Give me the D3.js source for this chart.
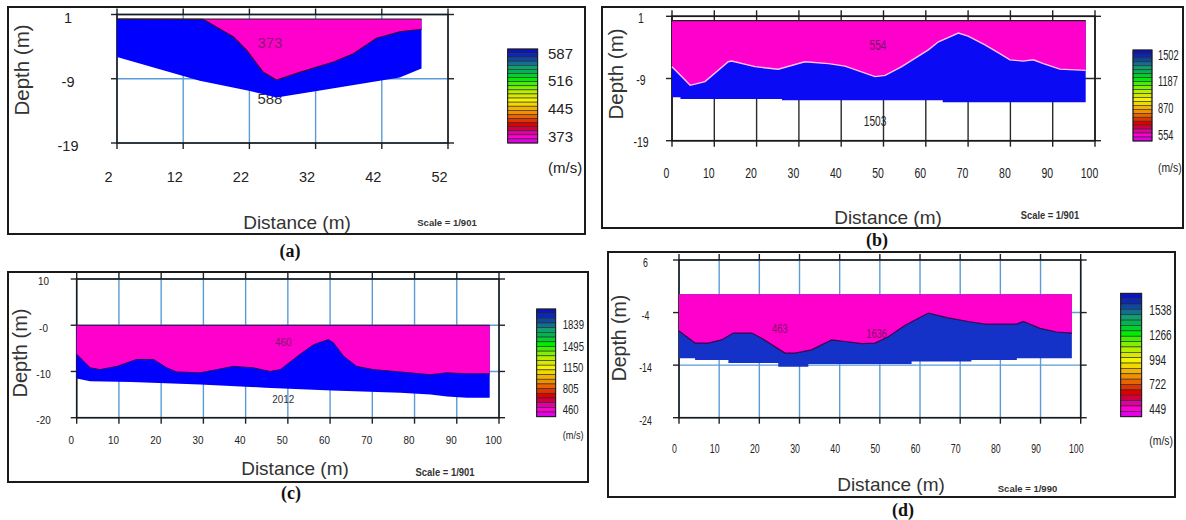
<!DOCTYPE html>
<html>
<head>
<meta charset="utf-8">
<script src="https://cdn.jsdelivr.net/npm/d3@7"></script>
<style>
  body { margin: 0; background: #fff; }
  svg { display: block; }
</style>
</head>
<body>
<svg id="fig" width="1186" height="520"></svg>
<script>
// ---------- (a) ----------
const aDistTicks = [2, 12, 22, 32, 42, 52];
const aDepthTicks = [1, -9, -19];
const aDepthLabels = ["1", "-9", "-19"];
const aSurface = 0.3;
const aInterfaceDist  = [2, 15, 19.6, 21.6, 24.1, 26.1, 29.6, 34.7, 37.7, 41.2, 44.7, 48];
const aInterfaceDepth = [0.3, 0.25, -2.5, -4.6, -8.0, -9.2, -8.0, -6.4, -5.1, -2.7, -1.7, -1.3];
const aBaseDist  = [2, 14.5, 22.1, 26.1, 32.2, 44.7, 48];
const aBaseDepth = [-5.6, -9.3, -10.9, -11.9, -10.9, -8.8, -7.4];
const aLegend = [587, 516, 445, 373];
const aLayerText  = ["373", "588"];
const aLayerDist  = [25.1, 25.1];
const aLayerDepth = [-3.4, -12.0];

// ---------- (b) ----------
const bDistTicks = [0, 10, 20, 30, 40, 50, 60, 70, 80, 90, 100];
const bDepthTicks = [1, -9, -19];
const bDepthLabels = ["1", "-9", "-19"];
const bSurface = 0.3;
const bInterfaceDist  = [0, 4.3, 7.8, 13.3, 14.1, 19.6, 25.1, 31.4, 37, 40.9, 48, 50.4, 54.3, 60.6, 63, 67.7, 70, 74, 77.5, 79.9, 83, 85.4, 87.8, 91.7, 97.8];
const bInterfaceDepth = [-7.1, -10.1, -9.5, -6.3, -6.2, -7.1, -7.5, -6.3, -6.6, -7.0, -8.7, -8.5, -7.1, -4.4, -3.1, -1.7, -2.2, -3.6, -5.0, -6.0, -6.2, -6.0, -6.6, -7.5, -7.7];
const bBaseDist  = [0, 2, 26, 64, 97.8];
const bBaseDepth = [-12.0, -12.3, -12.5, -12.8, -12.8];
const bLegend = [1502, 1187, 870, 554];
const bLayerText  = ["554", "1503"];
const bLayerDist  = [48.7, 48.0];
const bLayerDepth = [-3.6, -15.9];

// ---------- (c) ----------
const cDistTicks = [0, 10, 20, 30, 40, 50, 60, 70, 80, 90, 100];
const cDepthTicks = [10, 0, -10, -20];
const cDepthLabels = ["10", "-0", "-10", "-20"];
const cSurface = 0;
const cInterfaceDist  = [0, 3.2, 5.5, 9.5, 14.2, 18.2, 21.3, 23.7, 29.2, 33.2, 37.1, 41.8, 45.8, 48.2, 52.9, 56.1, 59.6, 60.8, 63.2, 66.3, 70.3, 76.6, 83.7, 87.7, 92.4, 97.8];
const cInterfaceDepth = [-6.3, -9.2, -9.6, -8.9, -7.4, -7.4, -9.2, -10.1, -10.3, -9.6, -8.9, -9.2, -10.0, -9.6, -6.3, -4.2, -3.1, -3.8, -6.7, -8.9, -9.6, -10.1, -10.7, -10.3, -10.5, -10.5];
const cBaseDist  = [0, 3.2, 12.9, 29.2, 44.6, 60.4, 76.6, 83.8, 87.7, 92.4, 97.8];
const cBaseDepth = [-11.5, -12.1, -12.3, -12.8, -13.5, -14.1, -14.6, -15.0, -15.4, -15.7, -15.7];
const cLegend = [1839, 1495, 1150, 805, 460];
const cLayerText  = ["460", "2012"];
const cLayerDist  = [48.9, 48.9];
const cLayerDepth = [-3.7, -16.0];

// ---------- (d) ----------
const dDistTicks = [0, 10, 20, 30, 40, 50, 60, 70, 80, 90, 100];
const dDepthTicks = [6, -4, -14, -24];
const dDepthLabels = ["6", "-4", "-14", "-24"];
const dSurface = -0.5;
const dInterfaceDist  = [0, 4.0, 7.3, 10.6, 13.5, 18.1, 20.6, 26.4, 28.9, 33.0, 38.0, 41.3, 45.5, 48.8, 52.1, 56.3, 62.1, 67.0, 72.0, 76.2, 84.1, 85.7, 89.9, 94.0, 97.8];
const dInterfaceDepth = [-7.5, -9.8, -9.8, -9.2, -7.9, -7.9, -8.9, -11.7, -11.7, -11.1, -9.2, -9.5, -9.9, -9.8, -8.6, -6.4, -4.1, -5.0, -5.7, -6.2, -6.2, -5.7, -7.0, -7.7, -7.9];
const dBaseDist  = [0, 4, 12.3, 24.7, 32.2, 57.9, 72.8, 84.1, 97.8];
const dBaseDepth = [-12.7, -13.0, -13.6, -14.3, -13.8, -13.3, -13.0, -12.7, -12.7];
const dLegend = [1538, 1266, 994, 722, 449];
const dLayerText  = ["463", "1636"];
const dLayerDist  = [25.1, 49.2];
const dLayerDepth = [-7.0, -7.9];

// velocity colour bar, top (fast) to bottom (slow)
const bandColours = ["#0a14c0", "#0a28b0", "#1048a0", "#107090", "#10a070", "#00b450",
  "#00d030", "#00ec00", "#40f000", "#80f000", "#b4f000", "#d8e800", "#f4f400", "#f0d800",
  "#f0b400", "#f09000", "#e86400", "#e03400", "#e00000", "#d00040", "#e000a0", "#ff00d0", "#e400e8"];

const SANS = '"Liberation Sans", Arial, sans-serif';
const SERIF = '"Liberation Serif", "Times New Roman", serif';
const svg = d3.select("#fig");

function pairs(xs, ys) { return xs.map((v, i) => ({ dist: v, depth: ys[i] })); }

function txt(g, x, y, s, o) {
  return g.append("text")
    .attr("transform", `translate(${x},${y}) rotate(${o.rot || 0}) scale(${o.sx || 1},1)`)
    .attr("text-anchor", o.anchor || "middle")
    .attr("dominant-baseline", "central")
    .style("font-family", o.family || SANS)
    .style("font-size", o.size + "px")
    .style("font-weight", o.weight || "normal")
    .attr("fill", o.fill || "#222")
    .text(s);
}

function drawPanel(p) {
  const g = svg.append("g");
  g.append("rect")
    .attr("x", p.frame[0]).attr("y", p.frame[1])
    .attr("width", p.frame[2] - p.frame[0]).attr("height", p.frame[3] - p.frame[1])
    .attr("fill", "#fff").attr("stroke", "#1a1a1a").attr("stroke-width", 2);

  const x = d3.scaleLinear().domain([p.distTicks[0], p.distTicks[p.distTicks.length - 1]]).range([p.plot[0], p.plot[1]]);
  const y = d3.scaleLinear().domain([p.depthTicks[0], p.depthTicks[p.depthTicks.length - 1]]).range([p.plot[2], p.plot[3]]);
  const [x0, x1] = x.range(), [y0, y1] = y.range();
  const stub = 6;

  // grid
  g.append("g").selectAll("line").data(p.distTicks).join("line")
    .attr("x1", d => x(d)).attr("x2", d => x(d)).attr("y1", y0).attr("y2", y1)
    .attr("stroke", p.grid).attr("stroke-width", 1.4);
  g.append("g").selectAll("line").data(p.depthTicks).join("line")
    .attr("x1", x0).attr("x2", x1).attr("y1", d => y(d)).attr("y2", d => y(d))
    .attr("stroke", p.grid).attr("stroke-width", 1.4);
  // tick stubs crossing the frame
  const st = g.append("g").attr("stroke", "#222").attr("stroke-width", 1.4);
  st.selectAll(".tt").data(p.distTicks).join("line").attr("class", "tt")
    .attr("x1", d => x(d)).attr("x2", d => x(d)).attr("y1", y0 - stub).attr("y2", y0);
  st.selectAll(".tb").data(p.distTicks).join("line").attr("class", "tb")
    .attr("x1", d => x(d)).attr("x2", d => x(d)).attr("y1", y1).attr("y2", y1 + stub);
  st.selectAll(".tl").data(p.depthTicks).join("line").attr("class", "tl")
    .attr("x1", x0 - stub).attr("x2", x0).attr("y1", d => y(d)).attr("y2", d => y(d));
  st.selectAll(".tr").data(p.depthTicks).join("line").attr("class", "tr")
    .attr("x1", x1).attr("x2", x1 + stub).attr("y1", d => y(d)).attr("y2", d => y(d));
  g.append("rect").attr("x", x0).attr("y", y0).attr("width", x1 - x0).attr("height", y1 - y0)
    .attr("fill", "none").attr("stroke", "#1a1a1a").attr("stroke-width", 1.6);

  const layerPts = p.layerText.map((t, i) => ({ t, dist: p.layerDist[i], depth: p.layerDepth[i], i }));
  // deeper-layer label sits beneath the fill
  if (p.labelUnder) {
    layerPts.filter(d => d.i === 1).forEach(d =>
      txt(g, x(d.dist), y(d.depth), d.t, { size: p.layerSize, sx: p.layerSx, fill: p.layerFill[1] }));
  }

  // refractor (lower layer)
  const base = pairs(p.baseDist, p.baseDepth);
  g.append("path").datum(base)
    .attr("d", d3.area().x(d => x(d.dist)).y0(y(p.surface)).y1(d => y(d.depth))
      .curve(p.stepBase ? d3.curveStepAfter : d3.curveLinear))
    .attr("fill", p.blue);
  // weathered (upper layer)
  const iface = pairs(p.interfaceDist, p.interfaceDepth);
  g.append("path").datum(iface)
    .attr("d", d3.area().x(d => x(d.dist)).y0(y(p.surface)).y1(d => y(d.depth)))
    .attr("fill", "#ff00cc");
  g.append("path").datum(iface)
    .attr("d", d3.line().x(d => x(d.dist)).y(d => y(d.depth)))
    .attr("fill", "none").attr("stroke", p.ifaceStroke).attr("stroke-width", p.ifaceWidth);
  if (p.surfaceStroke) {
    g.append("line")
      .attr("x1", x(p.interfaceDist[0])).attr("x2", x(p.interfaceDist[p.interfaceDist.length - 1]))
      .attr("y1", y(p.surface)).attr("y2", y(p.surface))
      .attr("stroke", p.surfaceStroke).attr("stroke-width", 1.2);
  }

  layerPts.filter(d => !(p.labelUnder && d.i === 1)).forEach(d =>
    txt(g, x(d.dist), y(d.depth), d.t, { size: p.layerSize, sx: p.layerSx, fill: p.layerFill[d.i] }));

  // tick labels via d3 axes
  const ax = g.append("g").attr("transform", `translate(0,${p.xLabelY})`)
    .call(d3.axisBottom(x).tickValues(p.distTicks).tickSize(0).tickPadding(0));
  ax.select(".domain").remove();
  ax.selectAll("text")
    .attr("y", 0).attr("dy", "0.35em")
    .attr("dx", p.xLabelDx / p.tickSx)
    .attr("transform", `scale(${p.tickSx},1)`)
    .style("font-family", SANS).style("font-size", p.tickSize + "px").attr("fill", "#222");
  const ay = g.append("g").attr("transform", `translate(${p.yLabelX},${p.yLabelDy})`)
    .call(d3.axisLeft(y).tickValues(p.depthTicks).tickSize(0).tickPadding(0)
      .tickFormat((d, i) => p.depthLabels[i]));
  ay.select(".domain").remove();
  ay.selectAll("text")
    .attr("x", 0).attr("dy", "0.35em").attr("text-anchor", "middle")
    .attr("transform", `scale(${p.tickSx},1)`)
    .style("font-family", SANS).style("font-size", p.tickSize + "px").attr("fill", "#222");

  // titles
  txt(g, p.xTitle[0], p.xTitle[1], "Distance (m)", { size: 19, fill: "#333" });
  txt(g, p.yTitle[0], p.yTitle[1], "Depth (m)", { size: p.yTitleSize, rot: -90, fill: "#333" });
  txt(g, p.scalePos[0], p.scalePos[1], p.scaleText, { size: p.scaleSize, weight: "bold", sx: p.scaleSx, fill: "#333" });
  txt(g, p.tag[0], p.tag[1], p.tagText, { size: 18, weight: "bold", family: SERIF, fill: "#111" });

  // colour bar
  const [bx, bt, bw, bb] = p.bar;
  const bh = (bb - bt) / bandColours.length;
  g.append("g").selectAll("rect").data(bandColours).join("rect")
    .attr("x", bx).attr("y", (d, i) => bt + i * bh).attr("width", bw).attr("height", bh)
    .attr("fill", d => d).attr("stroke", "#2a2a2a").attr("stroke-width", 0.6);
  g.append("rect").attr("x", bx).attr("y", bt).attr("width", bw).attr("height", bb - bt)
    .attr("fill", "none").attr("stroke", "#1a1a1a").attr("stroke-width", 1);
  const ly = d3.scaleLinear().domain([p.legend[0], p.legend[p.legend.length - 1]]).range(p.legendRange);
  p.legend.forEach(v => txt(g, p.legendX, ly(v), String(v), { size: p.legendSize, sx: p.legendSx, anchor: "start" }));
  txt(g, p.legendX, p.unitsY, "(m/s)", { size: p.unitsSize, sx: p.unitsSx, anchor: "start" });
}

drawPanel({
  frame: [8, 7, 585, 234], plot: [117, 448, 14.5, 143],
  distTicks: aDistTicks, depthTicks: aDepthTicks, depthLabels: aDepthLabels,
  surface: aSurface, interfaceDist: aInterfaceDist, interfaceDepth: aInterfaceDepth,
  baseDist: aBaseDist, baseDepth: aBaseDepth, stepBase: false,
  layerText: aLayerText, layerDist: aLayerDist, layerDepth: aLayerDepth,
  layerFill: ["#8b1a74", "#333"], layerSize: 15, layerSx: 1, labelUnder: true,
  grid: "#5a9bd8", blue: "#0000ff", ifaceStroke: "#3a0040", ifaceWidth: 1.2, surfaceStroke: "#202020",
  xLabelY: 177, xLabelDx: -9, yLabelX: 68, yLabelDy: 2.5, tickSize: 14.5, tickSx: 1,
  xTitle: [297, 222], yTitle: [21, 70], yTitleSize: 20.5,
  scaleText: "Scale = 1/901", scalePos: [447, 222], scaleSize: 9.5, scaleSx: 1,
  tag: [290, 251], tagText: "(a)",
  bar: [507.7, 49, 30, 143], legend: aLegend, legendRange: [53, 136], legendX: 548,
  legendSize: 15, legendSx: 1, unitsY: 167, unitsSize: 15, unitsSx: 1
});

drawPanel({
  frame: [602, 7, 1183, 228], plot: [672, 1095, 16.3, 140.7],
  distTicks: bDistTicks, depthTicks: bDepthTicks, depthLabels: bDepthLabels,
  surface: bSurface, interfaceDist: bInterfaceDist, interfaceDepth: bInterfaceDepth,
  baseDist: bBaseDist, baseDepth: bBaseDepth, stepBase: true,
  layerText: bLayerText, layerDist: bLayerDist, layerDepth: bLayerDepth,
  layerFill: ["#7a1266", "#222"], layerSize: 14.5, layerSx: 0.7, labelUnder: false,
  grid: "#2a2a2a", blue: "#0a0af5", ifaceStroke: "#ffc0f4", ifaceWidth: 1.4, surfaceStroke: "#202020",
  xLabelY: 173, xLabelDx: -6, yLabelX: 641, yLabelDy: 0.5, tickSize: 15, tickSx: 0.7,
  xTitle: [888, 217], yTitle: [615, 74], yTitleSize: 20.5,
  scaleText: "Scale = 1/901", scalePos: [1050, 215], scaleSize: 11, scaleSx: 0.85,
  tag: [877, 240], tagText: "(b)",
  bar: [1133, 50, 19, 141], legend: bLegend, legendRange: [55, 135], legendX: 1158,
  legendSize: 14, legendSx: 0.66, unitsY: 167, unitsSize: 13, unitsSx: 0.8
});

drawPanel({
  frame: [8, 272, 588, 482], plot: [76.7, 499, 279, 417.7],
  distTicks: cDistTicks, depthTicks: cDepthTicks, depthLabels: cDepthLabels,
  surface: cSurface, interfaceDist: cInterfaceDist, interfaceDepth: cInterfaceDepth,
  baseDist: cBaseDist, baseDepth: cBaseDepth, stepBase: false,
  layerText: cLayerText, layerDist: cLayerDist, layerDepth: cLayerDepth,
  layerFill: ["#7a1a6c", "#333"], layerSize: 11, layerSx: 0.9, labelUnder: false,
  grid: "#5a9bd8", blue: "#0000ff", ifaceStroke: "#2a0060", ifaceWidth: 1, surfaceStroke: "#301040",
  xLabelY: 440, xLabelDx: -6, yLabelX: 43.5, yLabelDy: 2, tickSize: 11, tickSx: 0.9,
  xTitle: [295, 468], yTitle: [20, 353], yTitleSize: 20,
  scaleText: "Scale = 1/901", scalePos: [445, 472], scaleSize: 10.5, scaleSx: 0.9,
  tag: [291, 493], tagText: "(c)",
  bar: [536.7, 309, 19, 416.7], legend: cLegend, legendRange: [325, 410], legendX: 562.7,
  legendSize: 12, legendSx: 0.8, unitsY: 435, unitsSize: 11.5, unitsSx: 0.8
});

drawPanel({
  frame: [608, 252, 1175, 497], plot: [679, 1080.7, 260, 417.7],
  distTicks: dDistTicks, depthTicks: dDepthTicks, depthLabels: dDepthLabels,
  surface: dSurface, interfaceDist: dInterfaceDist, interfaceDepth: dInterfaceDepth,
  baseDist: dBaseDist, baseDepth: dBaseDepth, stepBase: true,
  layerText: dLayerText, layerDist: dLayerDist, layerDepth: dLayerDepth,
  layerFill: ["#80106a", "#80106a"], layerSize: 13, layerSx: 0.72, labelUnder: false,
  grid: "#5a9bd8", blue: "#1432c8", ifaceStroke: "#3a0050", ifaceWidth: 1.2, surfaceStroke: null,
  xLabelY: 448, xLabelDx: -5, yLabelX: 645.5, yLabelDy: 2, tickSize: 13.5, tickSx: 0.65,
  xTitle: [891, 484], yTitle: [618.5, 338], yTitleSize: 19.5,
  scaleText: "Scale = 1/990", scalePos: [1027.5, 488], scaleSize: 9.5, scaleSx: 1,
  tag: [903, 510], tagText: "(d)",
  bar: [1120.7, 293.3, 21, 416.7], legend: dLegend, legendRange: [310.7, 409.3], legendX: 1149.3,
  legendSize: 14, legendSx: 0.72, unitsY: 440, unitsSize: 13, unitsSx: 0.8
});
</script>
</body>
</html>
